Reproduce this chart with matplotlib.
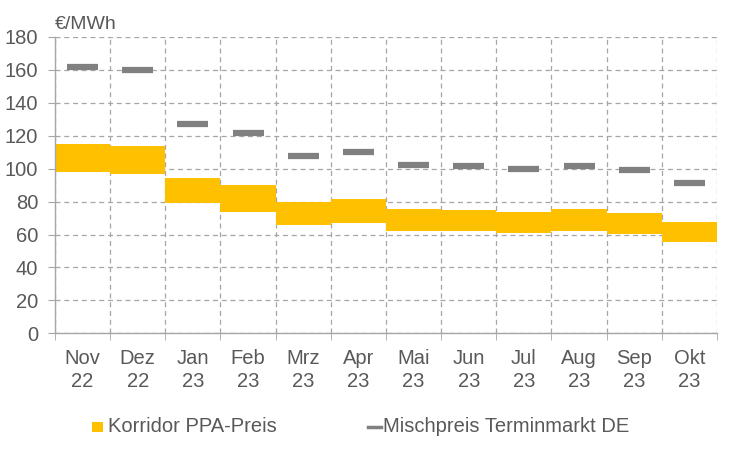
import matplotlib
matplotlib.use('Agg')
import matplotlib.pyplot as plt
from matplotlib.patches import Rectangle
from matplotlib.lines import Line2D
import numpy as np

# Daten
monate = ["Nov\n22", "Dez\n22", "Jan\n23", "Feb\n23", "Mrz\n23", "Apr\n23",
          "Mai\n23", "Jun\n23", "Jul\n23", "Aug\n23", "Sep\n23", "Okt\n23"]
ppa_unten = [97.7, 96.5, 79.1, 74.0, 66.1, 67.3, 62.4, 62.4, 61.2, 62.2, 60.2, 55.7]
ppa_oben = [115.1, 113.9, 94.6, 90.4, 79.9, 81.7, 75.6, 75.0, 73.8, 75.6, 73.2, 67.7]
mischpreis = [162.0, 160.2, 127.3, 121.4, 107.8, 110.3, 102.4, 101.8, 99.9, 101.8, 99.3, 91.4]
legende = ["Korridor PPA-Preis", "Mischpreis Terminmarkt DE"]

gelb = "#FFC000"
grau = "#808080"
text_grau = "#595959"
linie_grau = "#A6A6A6"

plt.rcParams['font.family'] = ['Liberation Sans', 'DejaVu Sans']

fig = plt.figure(figsize=(7.35, 4.59), dpi=100)
ax = fig.add_axes([0.0748, 0.2738, 0.9007, 0.6456])

x = np.arange(len(monate))
hoehe = np.array(ppa_oben) - np.array(ppa_unten)
ax.bar(x, hoehe, bottom=ppa_unten, width=1.0, color=gelb, zorder=2)
ax.hlines(mischpreis, x - 0.28, x + 0.28, color=grau, linewidth=4.5, zorder=3)

ax.set_xlim(-0.5, len(monate) - 0.5)
ax.set_ylim(0, 180)
ax.set_yticks(np.arange(0, 181, 20))
ax.set_xticks(x)
ax.set_xticklabels(monate, fontsize=14.5, color=text_grau, linespacing=1.28)
ax.set_xticks(np.arange(-0.5, len(monate), 1), minor=True)
ax.tick_params(axis='x', which='major', length=0, pad=11)
ax.tick_params(axis='x', which='minor', length=5, color=linie_grau, direction='out')
ax.tick_params(axis='y', labelsize=14.5, labelcolor=text_grau, length=5,
               color=linie_grau, direction='out', pad=7)

ax.grid(True, axis='y', which='major', linestyle=(0, (4, 3)), color=linie_grau, linewidth=0.9)
ax.grid(True, axis='x', which='minor', linestyle=(0, (4, 3)), color=linie_grau, linewidth=0.9)
ax.set_axisbelow(True)

for s in ['top', 'right']:
    ax.spines[s].set_visible(False)
for s in ['left', 'bottom']:
    ax.spines[s].set_color(linie_grau)
    ax.spines[s].set_linewidth(1.0)

fig.text(0.075, 0.947, "€/MWh", fontsize=14, color=text_grau, ha='left', va='center')

# Legende manuell
ly = 0.0704
fig.patches.append(Rectangle((92 / 735, ly - 5 / 459), 10.5 / 735, 10 / 459,
                             transform=fig.transFigure, facecolor=gelb, edgecolor='none'))
fig.text(108 / 735, ly, legende[0], fontsize=14.5, color=text_grau, ha='left', va='center')
fig.lines.append(Line2D([368 / 735, 381 / 735], [ly, ly], transform=fig.transFigure,
                        color=grau, linewidth=2.5))
fig.text(383 / 735, ly, legende[1], fontsize=14.5, color=text_grau, ha='left', va='center')

plt.savefig("out.png", dpi=100)
plt.close()
